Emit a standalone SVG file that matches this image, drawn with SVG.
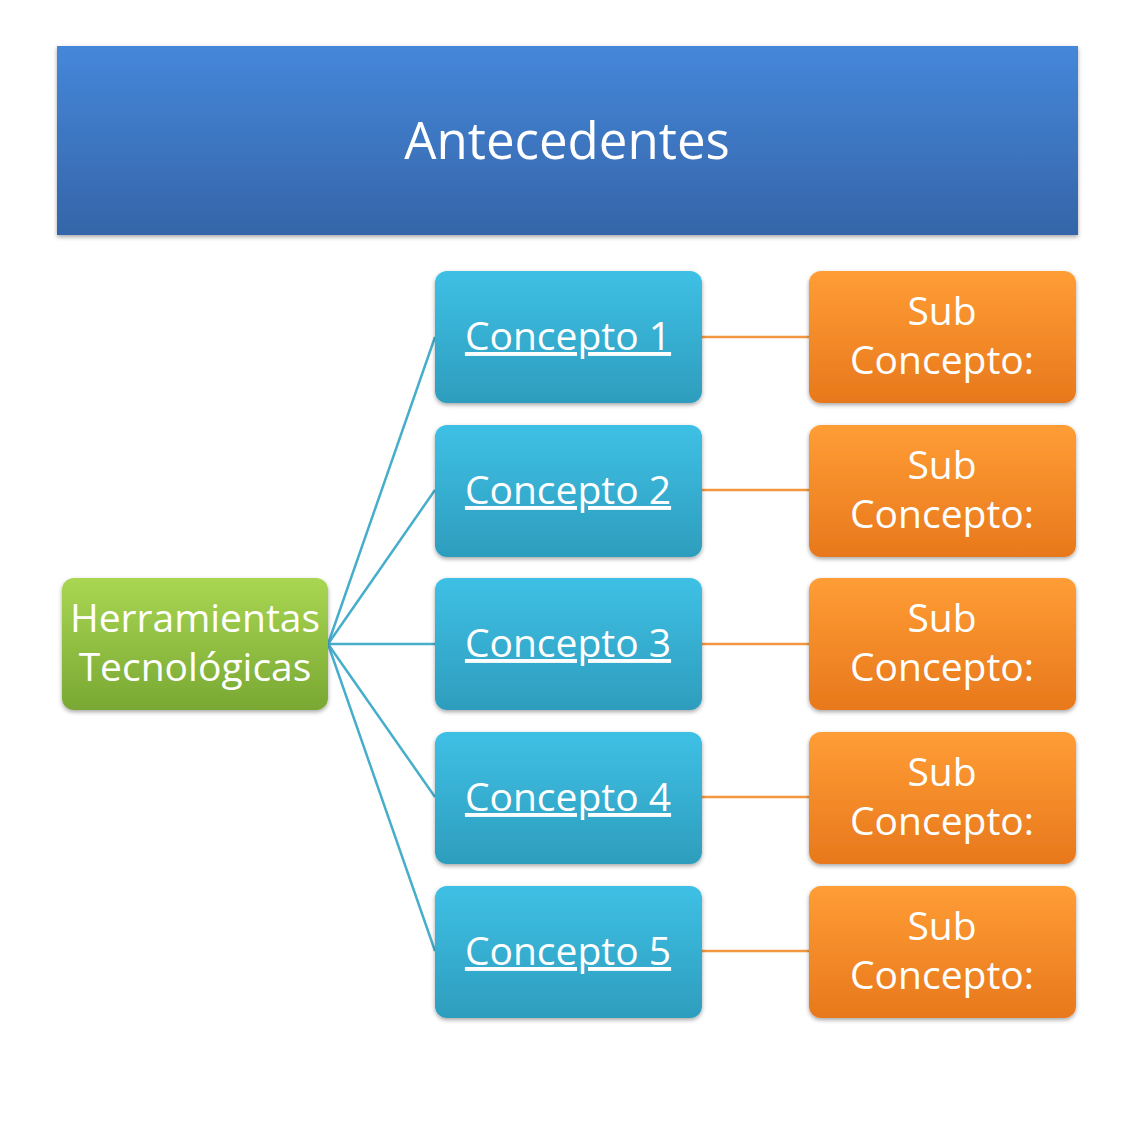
<svg xmlns="http://www.w3.org/2000/svg" width="1134" height="1134" viewBox="0 0 1134 1134">
<style>
text{font-family:"Open Sans","Noto Sans","Liberation Sans",sans-serif;fill:#ffffff;text-anchor:middle}
.big{font-size:51px}
.lbl{font-size:39px}
.u{text-decoration:underline}
.blue{stroke:#46aecb;stroke-width:2.5;fill:none}
.orange{stroke:#f2963f;stroke-width:2.5;fill:none}
</style>
<defs>
<linearGradient id="gHead" x1="0" y1="0" x2="0" y2="1">
<stop offset="0" stop-color="#4587da"/><stop offset="1" stop-color="#3565a8"/>
</linearGradient>
<linearGradient id="gBlue" x1="0" y1="0" x2="0" y2="1">
<stop offset="0" stop-color="#3ec0e5"/><stop offset="1" stop-color="#2e9dbd"/>
</linearGradient>
<linearGradient id="gOrange" x1="0" y1="0" x2="0" y2="1">
<stop offset="0" stop-color="#ff9d35"/><stop offset="1" stop-color="#e8781c"/>
</linearGradient>
<linearGradient id="gGreen" x1="0" y1="0" x2="0" y2="1">
<stop offset="0" stop-color="#a9d652"/><stop offset="1" stop-color="#79a833"/>
</linearGradient>
<filter id="sh" x="-10%" y="-10%" width="120%" height="130%">
<feDropShadow dx="0" dy="2" stdDeviation="2" flood-color="#000" flood-opacity="0.35"/>
</filter>
</defs>
<rect width="1134" height="1134" fill="#ffffff"/>
<g id="connectors">
<line class="blue" x1="328" y1="644" x2="435" y2="337"/>
<line class="blue" x1="328" y1="644" x2="435" y2="490"/>
<line class="blue" x1="328" y1="644" x2="435" y2="644"/>
<line class="blue" x1="328" y1="644" x2="435" y2="797"/>
<line class="blue" x1="328" y1="644" x2="435" y2="951"/>
<line class="orange" x1="702" y1="337" x2="809" y2="337"/>
<line class="orange" x1="702" y1="490" x2="809" y2="490"/>
<line class="orange" x1="702" y1="644" x2="809" y2="644"/>
<line class="orange" x1="702" y1="797" x2="809" y2="797"/>
<line class="orange" x1="702" y1="951" x2="809" y2="951"/>
</g>
<g id="header">
<rect x="57" y="46" width="1021" height="189" fill="url(#gHead)" filter="url(#sh)"/>
<text class="big" x="567" y="159">Antecedentes</text>
</g>
<g id="root">
<rect x="62" y="578" width="266" height="132" rx="12" fill="url(#gGreen)" filter="url(#sh)"/>
<text class="lbl" x="195" y="632">Herramientas</text>
<text class="lbl" x="195" y="681">Tecnológicas</text>
</g>
<g id="c1">
<rect x="435" y="271" width="267" height="132" rx="12" fill="url(#gBlue)" filter="url(#sh)"/>
<text class="lbl u" x="568" y="350">Concepto 1</text>
</g>
<g id="c2">
<rect x="435" y="425" width="267" height="132" rx="12" fill="url(#gBlue)" filter="url(#sh)"/>
<text class="lbl u" x="568" y="504">Concepto 2</text>
</g>
<g id="c3">
<rect x="435" y="578" width="267" height="132" rx="12" fill="url(#gBlue)" filter="url(#sh)"/>
<text class="lbl u" x="568" y="657">Concepto 3</text>
</g>
<g id="c4">
<rect x="435" y="732" width="267" height="132" rx="12" fill="url(#gBlue)" filter="url(#sh)"/>
<text class="lbl u" x="568" y="811">Concepto 4</text>
</g>
<g id="c5">
<rect x="435" y="886" width="267" height="132" rx="12" fill="url(#gBlue)" filter="url(#sh)"/>
<text class="lbl u" x="568" y="965">Concepto 5</text>
</g>
<g id="s1">
<rect x="809" y="271" width="267" height="132" rx="12" fill="url(#gOrange)" filter="url(#sh)"/>
<text class="lbl" x="942" y="325">Sub</text>
<text class="lbl" x="942" y="374">Concepto:</text>
</g>
<g id="s2">
<rect x="809" y="425" width="267" height="132" rx="12" fill="url(#gOrange)" filter="url(#sh)"/>
<text class="lbl" x="942" y="479">Sub</text>
<text class="lbl" x="942" y="528">Concepto:</text>
</g>
<g id="s3">
<rect x="809" y="578" width="267" height="132" rx="12" fill="url(#gOrange)" filter="url(#sh)"/>
<text class="lbl" x="942" y="632">Sub</text>
<text class="lbl" x="942" y="681">Concepto:</text>
</g>
<g id="s4">
<rect x="809" y="732" width="267" height="132" rx="12" fill="url(#gOrange)" filter="url(#sh)"/>
<text class="lbl" x="942" y="786">Sub</text>
<text class="lbl" x="942" y="835">Concepto:</text>
</g>
<g id="s5">
<rect x="809" y="886" width="267" height="132" rx="12" fill="url(#gOrange)" filter="url(#sh)"/>
<text class="lbl" x="942" y="940">Sub</text>
<text class="lbl" x="942" y="989">Concepto:</text>
</g>
</svg>
